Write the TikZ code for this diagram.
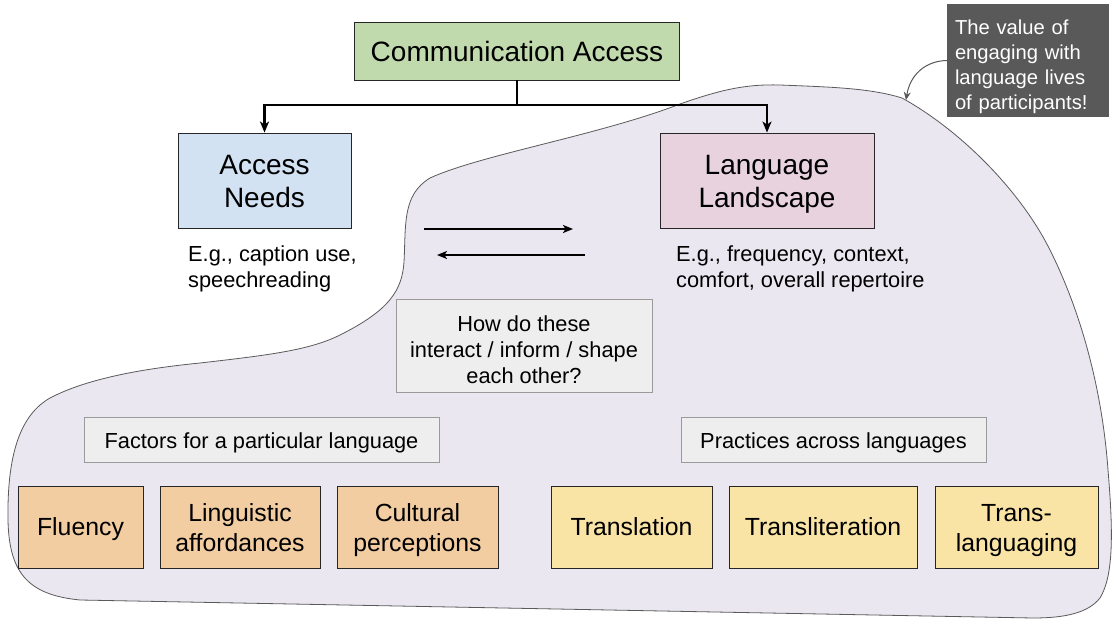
\documentclass[tikz,border=0pt]{standalone}
\usepackage{fontspec}
\setmainfont{Liberation Sans}
\usetikzlibrary{arrows.meta}
\definecolor{blobfill}{HTML}{EAE7F0}
\definecolor{blobline}{HTML}{5A5A5A}
\definecolor{commfill}{HTML}{C0DAAE}
\definecolor{needfill}{HTML}{D2E2F2}
\definecolor{landfill}{HTML}{E7D2DD}
\definecolor{greyfill}{HTML}{EEEEEE}
\definecolor{greyline}{HTML}{9A9A9A}
\definecolor{orangefill}{HTML}{F2CDA1}
\definecolor{yellowfill}{HTML}{FAE4A5}
\definecolor{callfill}{HTML}{595959}
% lines of a label, lowered by #1 without changing the box size
\newcommand\mytxt[3]{\raisebox{-#1}[\height][\depth]{\begin{tabular}{@{}#2@{}}#3\end{tabular}}}
\begin{document}
\begin{tikzpicture}[x=1pt,y=-1pt,
  box/.style={draw=black!85, line width=0.9pt, minimum height=82pt, inner sep=0pt,
    font=\fontsize{24.8}{30}\selectfont},
  bigbox/.style={draw=black!85, line width=0.9pt, inner sep=0pt,
    font=\fontsize{28}{33}\selectfont, minimum height=95pt},
  greybox/.style={draw=greyline, fill=greyfill, line width=0.9pt, inner sep=0pt,
    font=\fontsize{21.8}{26}\selectfont},
  note/.style={inner sep=0pt, font=\fontsize{21.8}{26}\selectfont},
  conn/.style={line width=2.2pt, -{Stealth[length=11pt,width=9pt,inset=3pt]}},
  thinarr/.style={line width=1.6pt, -{Stealth[length=10pt,width=8pt,inset=2.5pt]}}
]
\useasboundingbox (0,0) rectangle (1114,624);
\fill[white] (0,0) rectangle (1114,624);

% blob
\draw[blobline, fill=blobfill, line width=0.8pt]
  (404,262) .. controls (406,225) and (402,195) .. (430,178)
  .. controls (480,155) and (600,135) .. (680,104)
  .. controls (720,90) and (745,84) .. (780,85)
  .. controls (830,87) and (870,88) .. (902,98)
  .. controls (960,130) and (1020,190) .. (1050,250)
  .. controls (1085,320) and (1103,400) .. (1108,470)
  .. controls (1113,530) and (1114,575) .. (1100,598)
  .. controls (1088,613) and (1065,618) .. (1033,618)
  -- (80,600)
  .. controls (30,595) and (9,575) .. (8,520)
  .. controls (7,455) and (20,415) .. (50,398)
  .. controls (90,377) and (150,368) .. (200,363)
  .. controls (270,355) and (310,350) .. (340,335)
  .. controls (390,310) and (402,290) .. (404,262) -- cycle;

% top nodes
\node[draw=black!85, fill=commfill, line width=0.9pt, minimum width=325pt, minimum height=58pt,
  inner sep=0pt, font=\fontsize{28}{33}\selectfont] (comm) at (517,51)
  {\mytxt{3.4pt}{c}{Communication Access}};
\node[bigbox, fill=needfill, minimum width=173pt] (need) at (264.5,180.5)
  {\mytxt{4pt}{c}{Access\\Needs}};
\node[bigbox, fill=landfill, minimum width=214pt] (land) at (767,180.5)
  {\mytxt{4pt}{c}{Language\\Landscape}};

\node[note, anchor=west] (eg1) at (188,269) {\mytxt{0pt}{l}{E.g., caption use,\\speechreading}};
\node[note, anchor=west] (eg2) at (676,269) {\mytxt{0pt}{l}{E.g., frequency, context,\\comfort, overall repertoire}};

\coordinate (split) at (517,105);
\draw[line width=2.2pt] (comm.south) -- (split);
\draw[conn] (split) -| (need.north);
\draw[conn] (split) -| (land.north);

\coordinate (a1s) at (424,229);
\coordinate (a1e) at (573,229);
\coordinate (a2s) at (585,255);
\coordinate (a2e) at (437,255);
\draw[thinarr] (a1s) -- (a1e);
\draw[thinarr] (a2s) -- (a2e);

\node[greybox, minimum width=256pt, minimum height=93pt] (how) at (524,345.5)
  {\mytxt{6.5pt}{c}{How do these\\interact / inform / shape\\each other?}};
\node[greybox, minimum width=355pt, minimum height=45pt] (factors) at (261.5,439.5)
  {\mytxt{4pt}{c}{Factors for a particular language}};
\node[greybox, minimum width=305pt, minimum height=45pt] (practices) at (833.5,439.5)
  {\mytxt{4pt}{c}{Practices across languages}};

\node[box, fill=orangefill, minimum width=125pt] (fluency) at (80.5,527) {\mytxt{2.5pt}{c}{Fluency}};
\node[box, fill=orangefill, minimum width=160pt] (ling) at (240,527) {\mytxt{3.5pt}{c}{Linguistic\\affordances}};
\node[box, fill=orangefill, minimum width=161pt] (cult) at (417.5,527) {\mytxt{3.5pt}{c}{Cultural\\perceptions}};
\node[box, fill=yellowfill, minimum width=161pt] (transl) at (631.5,527) {\mytxt{2.5pt}{c}{Translation}};
\node[box, fill=yellowfill, minimum width=188pt] (translit) at (823,527) {\mytxt{2.5pt}{c}{Transliteration}};
\node[box, fill=yellowfill, minimum width=163pt] (transla) at (1016.5,527) {\mytxt{3.5pt}{c}{Trans-\\languaging}};

% callout
\node[fill=callfill, text=white, minimum width=162pt, minimum height=113pt, text width=146pt,
  inner xsep=8pt, inner ysep=0pt, align=left, font=\fontsize{20.2}{25}\selectfont] (call) at (1028,60.5)
  {\mytxt{6.5pt}{l}{The value of\\engaging with\\language lives\\of participants!}};
\coordinate (calltip) at (906,100);
\draw[callfill, line width=1pt, -{Stealth[length=8pt,width=7pt]}]
  (call.west) .. controls (925,61) and (910,75) .. (calltip);
\end{tikzpicture}
\end{document}
